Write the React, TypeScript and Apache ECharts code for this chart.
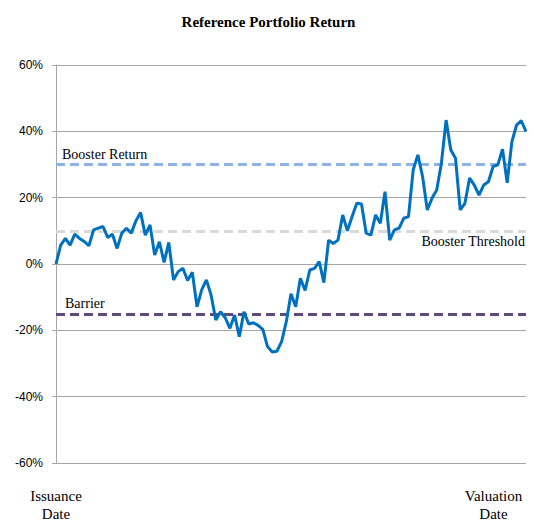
import React, { useEffect, useRef } from "react";
import * as echarts from "echarts";

const TITLE = "Reference Portfolio Return";
const X_START_LABEL = "Issuance\nDate";
const X_END_LABEL = "Valuation\nDate";

// Portfolio return (%) at each observation from issuance to valuation
const returns: number[] = [
  0, 5.7, 7.7, 5.7, 9, 7.7, 6.8, 5.5, 10.3, 10.8,
  11.3, 8, 9, 4.7, 9.3, 10.8, 9.3, 13, 15.5, 8.7,
  11.8, 2.7, 6.7, 0.5, 6.5, -4.8, -2.3, -1.3, -5, -2.5,
  -12.9, -7.8, -4.8, -9.4, -16.9, -14.4, -16.2, -19.4, -15.4, -21.9,
  -14.4, -18.1, -17.7, -18.5, -19.7, -24.9, -26.5, -26.3, -23.4, -17.4,
  -9, -12.9, -4.3, -8, -1.8, -1.3, 0.7, -5.6, 7.2, 6.2,
  7.2, 14.8, 10, 14.3, 18.3, 18.1, 9.3, 8.7, 14.8, 12.3,
  21.8, 7.2, 10.3, 10.8, 13.8, 14.3, 28.4, 32.9, 26.3, 16.3,
  19.8, 22.3, 30.4, 43.4, 34.4, 31.9, 16.3, 18.3, 25.9, 23.8,
  20.8, 23.8, 24.8, 29.4, 29.9, 34.6, 24.5, 36.9, 41.9, 43.2,
  39.9,
];

const categories: string[] = returns.map((_, i) => String(i));

const BOOSTER_RETURN = 30;
const BOOSTER_THRESHOLD = 10;
const BARRIER = -15;

const Y_MIN = -60;
const Y_MAX = 60;
const Y_STEP = 20;

export default function App() {
  const ref = useRef<HTMLDivElement>(null);

  useEffect(() => {
    if (!ref.current) return;
    const chart = echarts.init(ref.current, null, { renderer: "svg" });
    const serif = "Liberation Serif";
    const last = categories.length - 1;
    chart.setOption({
      animation: false,
      backgroundColor: "#ffffff",
      title: {
        text: TITLE,
        left: "center",
        top: 9,
        textStyle: {
          fontFamily: serif,
          fontSize: 15,
          fontWeight: "bold",
          color: "#000000",
        },
      },
      grid: {
        left: 56,
        right: 11,
        top: 65,
        bottom: 60,
        containLabel: false,
        outerBoundsMode: "none",
      },
      xAxis: {
        type: "category",
        data: categories,
        boundaryGap: false,
        axisLine: { show: true, lineStyle: { color: "#a6a6a6", width: 1 } },
        axisTick: { show: false },
        splitLine: { show: false },
        axisLabel: {
          interval: (i: number) => i === 0 || i === last,
          margin: 24,
          hideOverlap: false,
          formatter: (_v: string, i: number) =>
            i === 0
              ? X_START_LABEL.split("\n").map((s) => `{a|${s}}`).join("\n")
              : X_END_LABEL.split("\n").map((s) => `{b|${s}}`).join("\n"),
          rich: {
            a: {
              fontFamily: serif,
              fontSize: 15,
              lineHeight: 18,
              color: "#000000",
            },
            b: {
              fontFamily: serif,
              fontSize: 15,
              lineHeight: 18,
              color: "#000000",
              padding: [0, 65, 0, 0],
            },
          },
        },
      },
      yAxis: {
        type: "value",
        min: Y_MIN,
        max: Y_MAX,
        interval: Y_STEP,
        axisLine: { show: true, lineStyle: { color: "#a6a6a6", width: 1 } },
        axisTick: { show: true, length: 4, lineStyle: { color: "#a6a6a6" } },
        splitLine: { show: true, lineStyle: { color: "#a6a6a6", width: 1 } },
        axisLabel: {
          formatter: (v: number) => `${v}%`,
          fontFamily: "Liberation Sans",
          fontSize: 12,
          color: "#000000",
          margin: 13,
        },
      },
      series: [
        {
          type: "line",
          data: returns,
          showSymbol: false,
          symbol: "none",
          lineStyle: { color: "#0070c0", width: 3 },
          itemStyle: { color: "#0070c0" },
          z: 3,
          markLine: {
            silent: true,
            symbol: "none",
            z: 2,
            data: [
              {
                yAxis: BOOSTER_RETURN,
                lineStyle: { color: "#8db3e2", type: [9, 5], width: 3 },
                label: {
                  show: true,
                  position: "insideStartTop",
                  formatter: "Booster Return",
                  fontFamily: serif,
                  fontSize: 14,
                  color: "#000000",
                  distance: [6, 3],
                },
              },
              {
                yAxis: BOOSTER_THRESHOLD,
                lineStyle: { color: "#d9d9d9", type: [9, 5], width: 3 },
                label: {
                  show: true,
                  position: "insideEndBottom",
                  formatter: "Booster Threshold",
                  fontFamily: serif,
                  fontSize: 14,
                  color: "#000000",
                  distance: [1, 4],
                },
              },
              {
                yAxis: BARRIER,
                lineStyle: { color: "#604a7b", type: [9, 5], width: 3 },
                label: {
                  show: true,
                  position: "insideStartTop",
                  formatter: "Barrier",
                  fontFamily: serif,
                  fontSize: 14,
                  color: "#000000",
                  distance: [9, 3],
                },
              },
            ],
          },
        },
      ],
    });
    return () => chart.dispose();
  }, []);

  return (
    <div
      ref={ref}
      style={{ position: "fixed", left: 0, top: 0, width: 537, height: 523 }}
    />
  );
}
